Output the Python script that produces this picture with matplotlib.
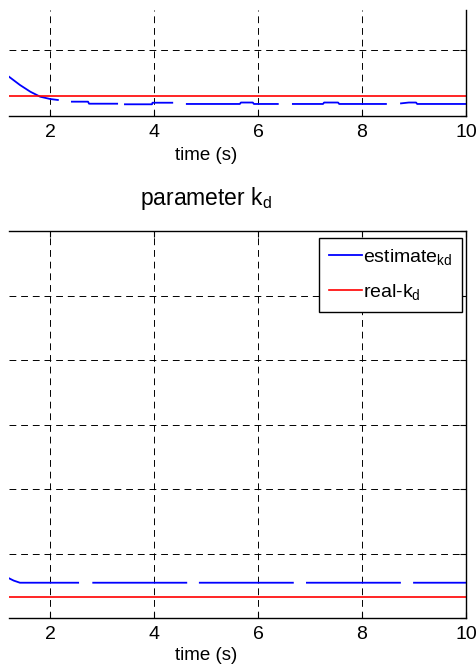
import numpy as np
import matplotlib
matplotlib.use("Agg")
import matplotlib.pyplot as plt

plt.rcParams['font.family'] = ['Liberation Sans Narrow', 'Liberation Sans', 'DejaVu Sans']
plt.rcParams['mathtext.fontset'] = 'custom'
plt.rcParams['mathtext.rm'] = 'Liberation Sans'
plt.rcParams['mathtext.it'] = 'Liberation Sans'

nan = np.nan

# upper panel (its top is cut off in the reference)
top_time = [1.21, 1.42, 1.62, 1.81, 2.0, 2.15, nan,
            2.42, 2.73, 2.75, 3.29, nan,
            3.44, 3.96, 3.97, 4.35, nan,
            4.63, 5.65, 5.67, 5.90, 5.92, 6.38, nan,
            6.67, 7.25, 7.27, 7.54, 7.56, 8.46, nan,
            8.75, 8.90, 9.04, 9.06, 10.0]
top_estimate = [0.592, 0.466, 0.363, 0.287, 0.252, 0.237, nan,
                0.211, 0.211, 0.180, 0.180, nan,
                0.171, 0.171, 0.195, 0.195, nan,
                0.176, 0.176, 0.198, 0.198, 0.176, 0.176, nan,
                0.176, 0.176, 0.198, 0.198, 0.176, 0.176, nan,
                0.185, 0.198, 0.198, 0.176, 0.176]
top_real = 0.30

# lower panel: parameter k_d
kd_time = [1.21, 1.30, 1.42, 2.54, nan, 2.83, 4.62, nan, 4.88, 6.67, nan,
           6.94, 8.73, nan, 9.0, 10.0]
kd_estimate = [0.616, 0.58, 0.547, 0.547, nan, 0.547, 0.547, nan, 0.547, 0.547, nan,
               0.547, 0.547, nan, 0.547, 0.547]
kd_real = 0.33

xticks = [2, 4, 6, 8, 10]
x_min, x_max = 1.21, 10

W, H = 477, 667
fig = plt.figure(figsize=(W / 100, H / 100), dpi=100)


def px_axes(left, right, top, bottom):
    return fig.add_axes([left / W, 1 - bottom / H, (right - left) / W, (bottom - top) / H])


ax1 = px_axes(9, 466, 10, 115.5)
ax2 = px_axes(9, 466, 231, 618)

# centre of the full 0..10 axis (left part is cropped away in the reference)
x_centre = (5 - x_min) / (x_max - x_min)

for ax in (ax1, ax2):
    ax.set_xlim(x_min, x_max)
    ax.set_xticks(xticks)
    ax.set_xticklabels([str(t) for t in xticks], fontsize=14)
    ax.tick_params(axis='both', direction='in', length=4, width=0.8,
                   top=True, right=True, left=False, labelleft=False, pad=6)
    ax.spines['left'].set_visible(False)
    for s in ('bottom', 'right', 'top'):
        ax.spines[s].set_linewidth(1.0)
    ax.grid(True, color='k', lw=0.7, ls=(0, (7, 5)))
    ax.set_xlabel('time (s)', fontsize=13.5)

ax1.spines['top'].set_visible(False)
ax1.tick_params(axis='x', top=False)
ax1.set_ylim(0, 1.61)
ax1.set_yticks([0, 1])
ax1.plot(top_time, top_estimate, color='b', lw=1.3)
ax1.axhline(top_real, color='r', lw=1.2)
ax1.xaxis.set_label_coords(x_centre, -0.30)

ax2.set_ylim(0, 6)
ax2.set_yticks(range(7))
l1, = ax2.plot(kd_time, kd_estimate, color='b', lw=1.3, label='estimate$_{\\rm kd}$')
l2 = ax2.axhline(kd_real, color='r', lw=1.2, label='real-k$_{\\rm d}$')
ax2.set_title('parameter k$_{\\rm d}$', fontsize=16.5, x=x_centre, pad=19)
ax2.xaxis.set_label_coords(x_centre, -0.074)

leg = ax2.legend(handles=[l1, l2], loc='upper right', bbox_to_anchor=(0.991, 0.983),
                 fontsize=14, fancybox=False, framealpha=1, edgecolor='k',
                 handlelength=1.7, handletextpad=0.05, borderpad=0.5, labelspacing=0.75,
                 borderaxespad=0)
leg.get_frame().set_linewidth(1.0)

fig.savefig('out.png', dpi=100)
